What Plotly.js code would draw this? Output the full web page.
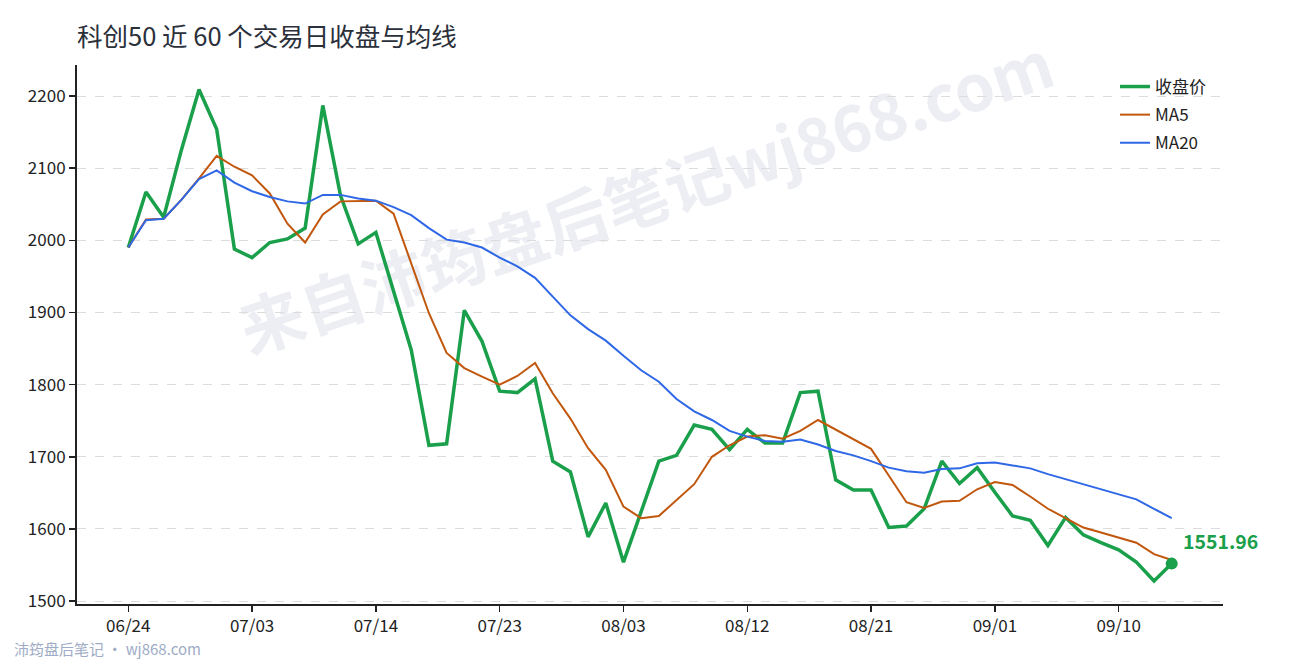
<!DOCTYPE html>
<html>
<head>
<meta charset="utf-8">
<script src="https://cdn.plot.ly/plotly-3.0.1.min.js"></script>
<style>
  html, body { margin: 0; padding: 0; background: #ffffff; }
  #wrap { position: relative; width: 1290px; height: 660px; overflow: hidden; }
  #wm { position: absolute; left: 645px; top: 193px; transform: translate(-50%, -50%) rotate(-18.5deg);
        white-space: nowrap; font-family: "Noto Sans CJK SC", sans-serif; font-weight: 700;
        font-size: 64px; color: #eceef3; z-index: 0; pointer-events: none; }
  #chart { position: absolute; left: 0; top: 0; width: 1290px; height: 660px; z-index: 1; }
</style>
</head>
<body>
<div id="wrap">
  <div id="wm">来自沛筠盘后笔记wj868.com</div>
  <div id="chart"></div>
</div>
<script>
const dates = ['06/24','06/25','06/26','06/27','06/30','07/01','07/02','07/03','07/04','07/07',
  '07/08','07/09','07/10','07/11','07/14','07/15','07/16','07/17','07/18','07/21',
  '07/22','07/23','07/24','07/25','07/28','07/29','07/30','07/31','08/03','08/04',
  '08/05','08/06','08/07','08/08','08/11','08/12','08/13','08/14','08/15','08/18',
  '08/19','08/20','08/21','08/22','08/25','08/26','08/27','08/28','08/29','09/01',
  '09/02','09/03','09/04','09/05','09/08','09/09','09/10','09/11','09/12','09/15'];

const close = [1990,2067,2032,2125,2209,2154,1988,1976,1997,2002,
  2017,2187,2062,1995,2011,1930,1848,1716,1718,1903,
  1860,1791,1789,1808,1694,1679,1589,1636,1554,1624,
  1694,1702,1744,1738,1710,1738,1719,1719,1789,1791,
  1668,1654,1654,1602,1604,1628,1694,1663,1685,1651,
  1618,1612,1577,1616,1592,1581,1571,1554,1528,1551.96];

const ma5 = [1990,2029,2030,2056,2086,2117,2102,2090,2065,2023,
  1997,2036,2054,2054,2055,2037,1968,1899,1844,1823,
  1811,1800,1812,1830,1788,1753,1712,1682,1631,1615,
  1618,1640,1662,1700,1716,1728,1730,1725,1736,1751,
  1738,1724,1711,1674,1637,1629,1638,1639,1655,1665,
  1661,1645,1628,1615,1602,1595,1588,1581,1565,1557];

const ma20 = [1990,2028,2030,2056,2085,2097,2080,2068,2060,2054,
  2051,2063,2063,2058,2055,2046,2035,2017,2001,1997,
  1990,1976,1964,1948,1922,1896,1877,1861,1840,1820,
  1804,1780,1763,1751,1736,1728,1722,1721,1724,1717,
  1708,1702,1694,1685,1680,1678,1683,1684,1691,1692,
  1688,1684,1676,1669,1663,1656,1649,1641,1628,1615];

const tickDates = ['06/24','07/03','07/14','07/23','08/03','08/12','08/21','09/01','09/10'];
const yTicks = [1500,1600,1700,1800,1900,2000,2100,2200];

const GREEN = '#1a9f4b', ORANGE = '#c1570c', BLUE = '#2f68e6';
const FONT = '"Noto Sans CJK SC", "Noto Sans", sans-serif';

const lastX = dates[dates.length - 1];
const lastY = close[close.length - 1];

const traces = [
  { x: dates, y: close, name: '收盘价', type: 'scatter', mode: 'lines', legendgroup: 'g1',
    line: { color: GREEN, width: 3.5 } },
  { x: dates, y: ma5, name: 'MA5', type: 'scatter', mode: 'lines', legendgroup: 'g2',
    line: { color: ORANGE, width: 2 } },
  { x: dates, y: ma20, name: 'MA20', type: 'scatter', mode: 'lines', legendgroup: 'g3',
    line: { color: BLUE, width: 2 } },
  { x: [lastX], y: [lastY], type: 'scatter', mode: 'markers', showlegend: false,
    marker: { color: GREEN, size: 12 }, hoverinfo: 'skip' }
];

const layout = {
  width: 1290, height: 660,
  paper_bgcolor: 'rgba(0,0,0,0)', plot_bgcolor: 'rgba(0,0,0,0)',
  margin: { l: 77, r: 67, t: 65, b: 56 },
  font: { family: FONT, color: '#222', size: 16 },
  title: { text: '科创50 近 60 个交易日收盘与均线', x: 0, xref: 'paper', xanchor: 'left',
           y: 1 - 37 / 660, yref: 'container', yanchor: 'middle',
           font: { family: FONT, size: 25.5, color: '#2b303a' } },
  xaxis: {
    type: 'category', range: [-2.9, 61.9],
    tickmode: 'array', tickvals: tickDates, ticktext: tickDates,
    showgrid: false, zeroline: false,
    showline: true, linecolor: '#222', linewidth: 2,
    ticks: 'outside', ticklen: 6, tickwidth: 1.5, tickcolor: '#222',
    tickfont: { size: 17, color: '#222' }
  },
  yaxis: {
    range: [1496, 2243], tickmode: 'array', tickvals: yTicks,
    showgrid: true, gridcolor: '#dcdcdc', griddash: 'dash', gridwidth: 1,
    zeroline: false, showline: true, linecolor: '#222', linewidth: 2,
    ticks: 'outside', ticklen: 6, tickwidth: 1.5, tickcolor: '#222',
    tickfont: { size: 17, color: '#222' }
  },
  legend: { x: (1115 - 77) / 1146, xanchor: 'left', y: 0.9926, yanchor: 'top',
            bgcolor: 'rgba(0,0,0,0)', font: { size: 17, color: '#222' },
            tracegroupgap: 3 },
  showlegend: true,
  annotations: [
    { x: lastX, y: lastY, xref: 'x', yref: 'y', text: '<b>1551.96</b>', showarrow: false,
      xanchor: 'left', yanchor: 'bottom', xshift: 9, yshift: 7,
      font: { family: FONT, size: 19.5, color: GREEN } },
    { x: (12 - 77) / 1146, y: (604 - 648) / 539, xref: 'paper', yref: 'paper',
      text: '沛筠盘后笔记 · wj868.com', showarrow: false, xanchor: 'left', yanchor: 'middle',
      font: { family: FONT, size: 15, color: '#9eacc6' } }
  ]
};

Plotly.newPlot('chart', traces, layout, { displayModeBar: false, staticPlot: true });
</script>
</body>
</html>
